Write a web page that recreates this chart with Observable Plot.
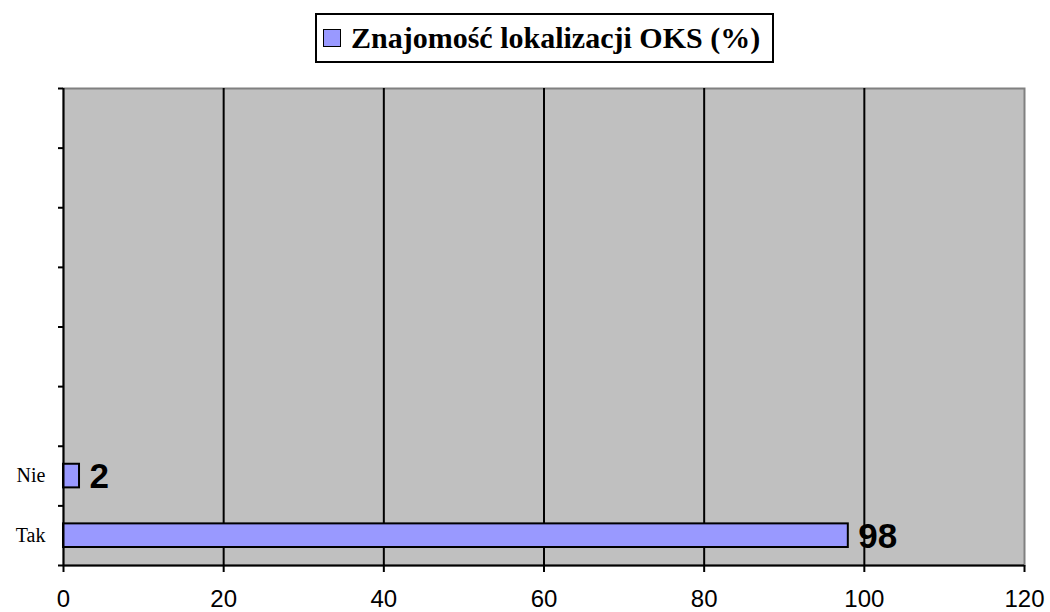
<!DOCTYPE html>
<html>
<head>
<meta charset="utf-8">
<script src="https://cdn.jsdelivr.net/npm/d3@7"></script>
<script src="https://cdn.jsdelivr.net/npm/@observablehq/plot@0.6"></script>
<style>
  html, body { margin: 0; padding: 0; background: #ffffff; }
  #wrap { position: relative; width: 1050px; height: 612px; }
  #legend {
    position: absolute; left: 315px; top: 13px; width: 455px; height: 46px;
    border: 2px solid #000; background: #fff;
    display: flex; align-items: center; box-sizing: content-box;
  }
  #legend .sw { width: 16px; height: 16px; background: #9999ff; border: 1px solid #000; margin-left: 6px; margin-right: 10px; flex: none; }
  #legendText { font-family: 'Liberation Serif', 'Times New Roman', 'DejaVu Serif', serif; font-weight: 700; font-size: 30px; white-space: nowrap; color: #000; }
</style>
</head>
<body>
<div id="wrap">
  <div id="chart"></div>
  <div id="legend"><span class="sw"></span><span id="legendText"></span></div>
</div>
<script>
// Data
const categories = ["Tak", "Nie"];
const values = [98, 2];
const seriesName = "Znajomość lokalizacji OKS (%)";
const xTicks = [0, 20, 40, 60, 80, 100, 120];
const slotCount = 8; // category slots on the axis (only the bottom two used)

document.getElementById("legendText").textContent = seriesName;

const data = categories.map((c, i) => ({cat: c, value: values[i], slot: i}));
const slotTicks = d3.range(0, slotCount + 1);
const labelTicks = categories.map((c, i) => i + 0.5);

const chart = Plot.plot({
  width: 1050,
  height: 612,
  marginLeft: 63,
  marginRight: 26,
  marginTop: 88,
  marginBottom: 47,
  x: {domain: [0, 120]},
  y: {domain: [0, slotCount]},
  marks: [
    Plot.frame({fill: "#c0c0c0", stroke: "#808080", strokeWidth: 2}),
    Plot.ruleX(xTicks.filter(t => t > 0 && t < 120), {stroke: "#000", strokeWidth: 2}),
    Plot.rectX(data, {
      x1: 0, x2: "value", y1: "slot", y2: d => d.slot + 1,
      insetTop: 18, insetBottom: 18,
      fill: "#9999ff", stroke: "#000", strokeWidth: 2
    }),
    Plot.text(data, {
      x: "value", y: d => d.slot + 0.5, text: d => String(d.value),
      textAnchor: "start", dx: 10, dy: 1,
      fontFamily: "Liberation Sans, Arial, sans-serif", fontWeight: "bold", fontSize: 35, fill: "#000"
    }),
    Plot.ruleY([0], {stroke: "#000", strokeWidth: 2}),
    Plot.ruleX([0], {stroke: "#000", strokeWidth: 2}),
    Plot.axisX({
      ticks: xTicks, tickSize: 7, tickPadding: 17, tickFormat: d => String(d),
      fontFamily: "Liberation Sans, Arial, sans-serif", fontSize: 24, stroke: "#000", strokeWidth: 2, label: null
    }),
    Plot.axisY({
      ticks: slotTicks, tickSize: 5, tickFormat: () => "", stroke: "#000", strokeWidth: 2, label: null
    }),
    Plot.axisY({
      ticks: labelTicks, tickSize: 0, tickPadding: 18,
      tickFormat: d => categories[Math.floor(d)],
      fontFamily: "Liberation Serif, Times New Roman, serif", fontSize: 20, label: null
    })
  ]
});
chart.style.fontFamily = "Liberation Sans, Arial, sans-serif";
document.getElementById("chart").appendChild(chart);
</script>
</body>
</html>
